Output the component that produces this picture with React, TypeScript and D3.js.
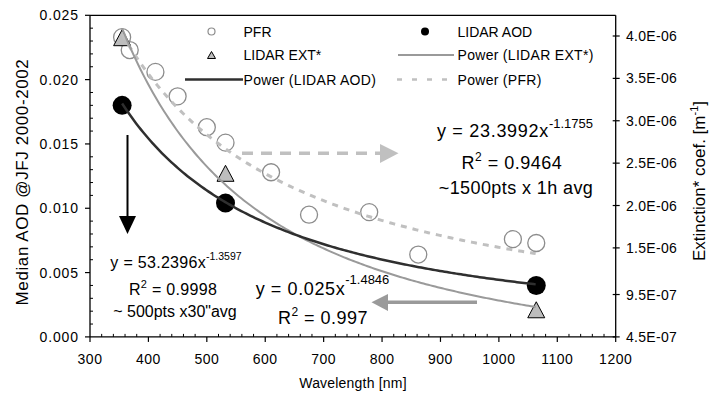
import React from 'react';
import * as d3 from 'd3';

// ---------- data ----------
const pfrWavelength = [355, 368, 412, 450, 500, 532, 610, 675, 778, 862, 1024, 1064];
const pfrAod = [0.0233, 0.0223, 0.0206, 0.0187, 0.0163, 0.0151, 0.0128, 0.0095, 0.0097, 0.0064, 0.0076, 0.0073];

const lidarWavelength = [355, 532, 1064];
const lidarAod = [0.0180, 0.0104, 0.0040];
const lidarExt = [3.98e-6, 2.38e-6, 7.7e-7];

const fitNames = ['Power (LIDAR AOD)', 'Power (LIDAR EXT*)', 'Power (PFR)'];
const fitCoef = [53.2396, 0.025, 23.3992];
const fitExp = [-1.3597, -1.4846, -1.1755];
const fitRange = [355, 1064];

const xTicks = [300, 400, 500, 600, 700, 800, 900, 1000, 1100, 1200];
const yLeftTicks = [0, 0.005, 0.01, 0.015, 0.02, 0.025];
const yRightTicks = [4.5e-7, 9.5e-7, 1.5e-6, 2.0e-6, 2.5e-6, 3.0e-6, 3.5e-6, 4.0e-6];

const legendLabels = ['PFR', 'LIDAR AOD', 'LIDAR EXT*', 'Power (LIDAR EXT*)', 'Power (LIDAR AOD)', 'Power (PFR)'];

// ---------- layout ----------
const W = 712, H = 396;
const X0 = 90, X1 = 615.7, Y0 = 15.3, Y1 = 336.9;
const FONT = '"Liberation Sans", Arial, Helvetica, sans-serif';

const x = d3.scaleLinear().domain([300, 1200]).range([X0, X1]);
const yL = d3.scaleLinear().domain([0, 0.025]).range([Y1, Y0]);
const yR = d3.scaleLinear().domain([4.5e-7, 4.0e-6]).range([Y1, 36]);

const fmtLeft = d3.format('.3f');
const fmtRight = (v: number) => {
  const [m, e] = v.toExponential(1).split('e');
  const n = parseInt(e, 10);
  const s = n < 0 ? '-' : '+';
  return `${m}E${s}${String(Math.abs(n)).padStart(2, '0')}`;
};

const C_DARK = '#2f2f2f';
const C_EXT = '#9a9a9a';
const C_PFR = '#c0c0c0';
const C_CIRC = '#8c8c8c';
const C_TRI = '#bdbdbd';

function fitPath(i: number, ys: d3.ScaleLinear<number, number>) {
  const pts = d3.range(fitRange[0], fitRange[1] + 0.01, 4).map((l) => [x(l), ys(fitCoef[i] * Math.pow(l, fitExp[i]))] as [number, number]);
  return d3.line()(pts) || '';
}

function tri(cx: number, cy: number, w: number, h: number) {
  return `M${cx},${cy - h / 2}L${cx + w / 2},${cy + h / 2}L${cx - w / 2},${cy + h / 2}Z`;
}

export default function App() {
  const minorX = d3.range(300, 1200.1, 20).filter((v) => v % 100 !== 0);
  const minorYL = d3.range(0, 0.02501, 0.001).filter((_, i) => i % 5 !== 0);
  const legendRows = [31.5, 55, 79.5];

  return (
    <svg width={W} height={H} style={{ position: 'absolute', left: 0, top: 0, background: '#fff' }} fontFamily={FONT}>
      <rect x={0} y={0} width={W} height={H} fill="#fff" />

      {/* markers */}
      {pfrWavelength.map((l, i) => (
        <circle key={'p' + i} cx={x(l)} cy={yL(pfrAod[i])} r={8.5} fill="none" stroke={C_CIRC} strokeWidth={1.3} />
      ))}
      {lidarWavelength.map((l, i) => (
        <circle key={'a' + i} cx={x(l)} cy={yL(lidarAod[i])} r={9.5} fill="#000" />
      ))}
      {lidarWavelength.map((l, i) => (
        <path key={'e' + i} d={tri(x(l), yR(lidarExt[i]), 17, 16)} fill={C_TRI} stroke="#000" strokeWidth={1} />
      ))}

      {/* fits */}
      <path d={fitPath(2, yL)} fill="none" stroke={C_PFR} strokeWidth={3} strokeDasharray="6,6" />
      <path d={fitPath(1, yR)} fill="none" stroke={C_EXT} strokeWidth={2} />
      <path d={fitPath(0, yL)} fill="none" stroke={C_DARK} strokeWidth={2.5} />

      {/* frame */}
      <line x1={X0} x2={X1} y1={Y0} y2={Y0} stroke="#000" strokeWidth={1.3} />
      <line x1={X0} x2={X0} y1={Y0} y2={Y1} stroke="#000" strokeWidth={1.3} />
      <line x1={X1} x2={X1} y1={Y0} y2={Y1} stroke="#000" strokeWidth={1.3} />
      <line x1={X0} x2={X1} y1={Y1} y2={Y1} stroke="#000" strokeWidth={1.3} />

      {/* left axis */}
      {yLeftTicks.map((v) => (
        <g key={'yl' + v}>
          <line x1={X0 - 5} x2={X0} y1={yL(v)} y2={yL(v)} stroke="#000" strokeWidth={1.2} />
          <text x={79} y={yL(v)} dy="0.36em" textAnchor="end" fontSize={14} letterSpacing={0.9} fill="#000">{fmtLeft(v)}</text>
        </g>
      ))}
      {minorYL.map((v) => (
        <line key={'myl' + v} x1={X0} x2={X0 + 3} y1={yL(v)} y2={yL(v)} stroke="#000" strokeWidth={1} />
      ))}

      {/* x axis */}
      {xTicks.map((v) => (
        <g key={'x' + v}>
          <line x1={x(v)} x2={x(v)} y1={Y1} y2={Y1 + 5} stroke="#000" strokeWidth={1.2} />
          <text x={x(v)} y={364} textAnchor="middle" fontSize={14} letterSpacing={0.5} fill="#000">{v}</text>
        </g>
      ))}
      {minorX.map((v) => (
        <line key={'mx' + v} x1={x(v)} x2={x(v)} y1={Y1 - 3} y2={Y1} stroke="#000" strokeWidth={1} />
      ))}

      {/* right axis */}
      {yRightTicks.map((v) => (
        <g key={'yr' + v}>
          <line x1={X1 - 3} x2={X1 + 4} y1={yR(v)} y2={yR(v)} stroke="#000" strokeWidth={1.2} />
          <text x={626} y={yR(v)} dy="0.36em" fontSize={14} letterSpacing={0.3} fill="#000">{fmtRight(v)}</text>
        </g>
      ))}

      {/* axis titles */}
      <text transform={`translate(28,182) rotate(-90)`} textAnchor="middle" fontSize={17} letterSpacing={0.6} fill="#000">Median AOD @JFJ 2000-2002</text>
      <text transform={`translate(705,181) rotate(-90)`} textAnchor="middle" fontSize={17} fill="#000">
        <tspan>Extinction* coef. [m</tspan>
        <tspan fontSize={11} dy={-7}>-1</tspan>
        <tspan dy={7}>]</tspan>
      </text>
      <text x={353} y={388} textAnchor="middle" fontSize={14} letterSpacing={0.2} fill="#000">Wavelength [nm]</text>

      {/* legend */}
      <circle cx={211.5} cy={legendRows[0]} r={3.5} fill="none" stroke={C_CIRC} strokeWidth={1.2} />
      <text x={243.5} y={legendRows[0] + 5} fontSize={14} fill="#000">{legendLabels[0]}</text>
      <circle cx={425} cy={legendRows[0]} r={4} fill="#000" />
      <text x={457.5} y={legendRows[0] + 5} fontSize={14} fill="#000">{legendLabels[1]}</text>

      <path d={tri(211.5, legendRows[1], 8, 7)} fill={C_TRI} stroke="#000" strokeWidth={1} />
      <text x={243.5} y={legendRows[1] + 5} fontSize={14} fill="#000">{legendLabels[2]}</text>
      <line x1={398} x2={454} y1={legendRows[1]} y2={legendRows[1]} stroke={C_EXT} strokeWidth={2} />
      <text x={457.5} y={legendRows[1] + 5} fontSize={14} letterSpacing={0.3} fill="#000">{legendLabels[3]}</text>

      <line x1={185} x2={243} y1={legendRows[2]} y2={legendRows[2]} stroke={C_DARK} strokeWidth={2.5} />
      <text x={243.5} y={legendRows[2] + 5} fontSize={14} letterSpacing={0.3} fill="#000">{legendLabels[4]}</text>
      <line x1={397} x2={456} y1={legendRows[2]} y2={legendRows[2]} stroke={C_PFR} strokeWidth={2.5} strokeDasharray="5,10" />
      <text x={457.5} y={legendRows[2] + 5} fontSize={14} letterSpacing={0.3} fill="#000">{legendLabels[5]}</text>

      {/* arrows */}
      <line x1={127.5} x2={127.5} y1={135} y2={217} stroke="#000" strokeWidth={2} />
      <path d="M119,216L136,216L127.5,234Z" fill="#000" />

      <line x1={242} x2={380} y1={153.3} y2={153.3} stroke={C_PFR} strokeWidth={3.5} strokeDasharray="11,8" />
      <path d="M380,144L398.5,153.3L380,163Z" fill={C_PFR} />

      <line x1={387} x2={477} y1={302.3} y2={302.3} stroke={C_EXT} strokeWidth={3.5} />
      <path d="M388,294L371.5,302.3L388,311Z" fill={C_EXT} />

      {/* fit annotations */}
      <text x={515} y={137} textAnchor="middle" fontSize={18} fill="#000">
        <tspan letterSpacing={0.7}>y = 23.3992x</tspan>
        <tspan fontSize={13} dy={-9}>-1.1755</tspan>
      </text>
      <text x={512} y={169} textAnchor="middle" fontSize={18} letterSpacing={0.5} fill="#000">
        <tspan>R</tspan><tspan fontSize={12} dy={-8}>2</tspan><tspan dy={8}> = 0.9464</tspan>
      </text>
      <text x={516} y={194} textAnchor="middle" fontSize={18} letterSpacing={0.4} fill="#000">~1500pts x 1h avg</text>

      <text x={176} y={268} textAnchor="middle" fontSize={16} fill="#000">
        <tspan letterSpacing={0.3}>y = 53.2396x</tspan>
        <tspan fontSize={10.5} dy={-8.5}>-1.3597</tspan>
      </text>
      <text x={173} y={295} textAnchor="middle" fontSize={16} letterSpacing={0.3} fill="#000">
        <tspan>R</tspan><tspan fontSize={11} dy={-7}>2</tspan><tspan dy={7}> = 0.9998</tspan>
      </text>
      <text x={175} y={316.7} textAnchor="middle" fontSize={16} fill="#000">~ 500pts x30"avg</text>

      <text x={322.5} y={295} textAnchor="middle" fontSize={18} fill="#000">
        <tspan letterSpacing={0.6}>y = 0.025x</tspan>
        <tspan fontSize={13} dy={-11}>-1.4846</tspan>
      </text>
      <text x={323} y={323.5} textAnchor="middle" fontSize={18} letterSpacing={0.5} fill="#000">
        <tspan>R</tspan><tspan fontSize={12} dy={-8}>2</tspan><tspan dy={8}> = 0.997</tspan>
      </text>
    </svg>
  );
}
